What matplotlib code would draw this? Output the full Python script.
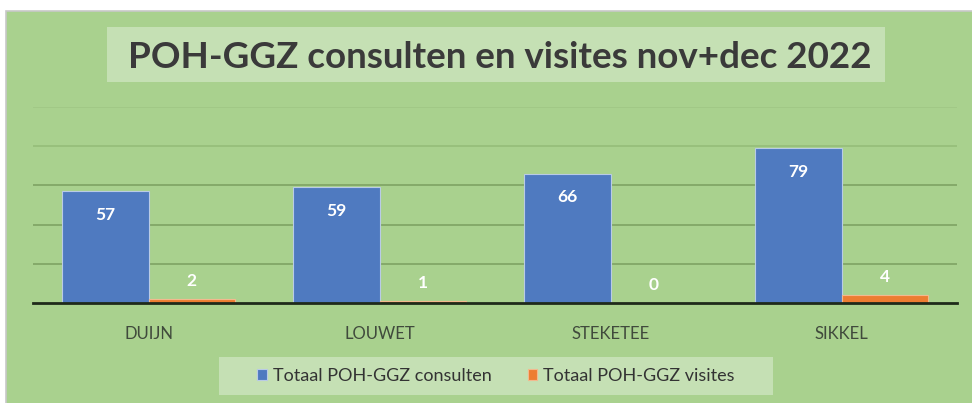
import numpy as np
import matplotlib.pyplot as plt
from matplotlib.patches import Rectangle

# data
praktijken = ["DUIJN", "LOUWET", "STEKETEE", "SIKKEL"]
consulten = [57, 59, 66, 79]
visites = [2, 1, 0, 4]
reeksen = ["Totaal POH-GGZ consulten", "Totaal POH-GGZ visites"]
titel = "POH-GGZ consulten en visites nov+dec 2022"

groen = "#A9D18E"
licht = "#C5E0B4"
blauw = "#4F7AC0"
oranje = "#ED7D31"
plt.rcParams['font.family'] = ['Lato', 'DejaVu Sans']

W, H = 972, 403
fig = plt.figure(figsize=(W / 100, H / 100), dpi=100)
fig.patch.set_facecolor("white")

# green chart area with thin gray edge
fig.patches.append(Rectangle((6 / W, -0.01), 1, 1.01 - 11 / H, transform=fig.transFigure,
                             facecolor=groen, edgecolor="#C8C8C8", lw=1.2, zorder=-2))

# plot area: x 33..957, y 107(=100)..303(=0)
ax = fig.add_axes([33 / W, 1 - 303 / H, (957 - 33) / W, (303 - 107) / H])
ax.set_facecolor("none")
x = np.arange(len(praktijken))
bw = 0.375
b1 = ax.bar(x - bw / 2, consulten, bw, color=blauw, edgecolor="#B9CBE6", lw=0.8,
            label=reeksen[0], zorder=3)
b2 = ax.bar(x + bw / 2, visites, bw, color=oranje, edgecolor="#F3B98E", lw=0.8,
            label=reeksen[1], zorder=3)

ax.set_xlim(-0.5, len(praktijken) - 0.5)
ax.set_ylim(0, 100)
ax.set_yticks([20, 40, 60, 80, 100])
ax.yaxis.grid(True, color="#7EA363", lw=1.2, zorder=1)
for t, gl in zip(ax.get_yticks(), ax.get_ygridlines()):
    if t == 80:
        gl.set_color("#95BD79")
    elif t == 100:
        gl.set_color("#A0C785")
ax.tick_params(left=False, labelleft=False, bottom=False)
for s in ["top", "right", "left"]:
    ax.spines[s].set_visible(False)
ax.spines["bottom"].set_color("#1E2A1A")
ax.spines["bottom"].set_linewidth(2)
ax.spines["bottom"].set_zorder(4)
ax.set_xticks(x)
ax.set_xticklabels(praktijken, fontsize=12, color="#404A3C")
ax.tick_params(axis="x", pad=13)

for rect, v in zip(b1, consulten):
    ax.annotate(str(v), (rect.get_x() + rect.get_width() / 2, v), xytext=(0, -17),
                textcoords="offset points", ha="center", va="center",
                color="white", fontweight="bold", fontsize=12.5, zorder=5)
for rect, v in zip(b2, visites):
    ax.annotate(str(v), (rect.get_x() + rect.get_width() / 2, v), xytext=(0, 13),
                textcoords="offset points", ha="center", va="center",
                color="white", fontweight="bold", fontsize=12.5, zorder=5)

# title with light box
fig.patches.append(Rectangle((107 / W, 1 - 82 / H), (885 - 107) / W, 55 / H,
                             transform=fig.transFigure, facecolor=licht,
                             edgecolor="none", zorder=1))
fig.text(500 / W, 1 - 57 / H, titel, ha="center", va="center", fontsize=26.5,
         fontweight="bold", color="#3A3A3A")

# legend inside a light box
fig.patches.append(Rectangle((219 / W, 1 - 395 / H), (773 - 219) / W, 38 / H,
                             transform=fig.transFigure, facecolor=licht,
                             edgecolor="none", zorder=1))
leg = fig.legend(handles=[b1, b2], loc="center", bbox_to_anchor=(496 / W, 1 - 376 / H),
                 ncol=2, frameon=False, fontsize=13, handlelength=0.5,
                 handleheight=0.6, handletextpad=0.35, columnspacing=2.0)
for txt in leg.get_texts():
    txt.set_color("#333333")

fig.savefig("out.png", dpi=100)
